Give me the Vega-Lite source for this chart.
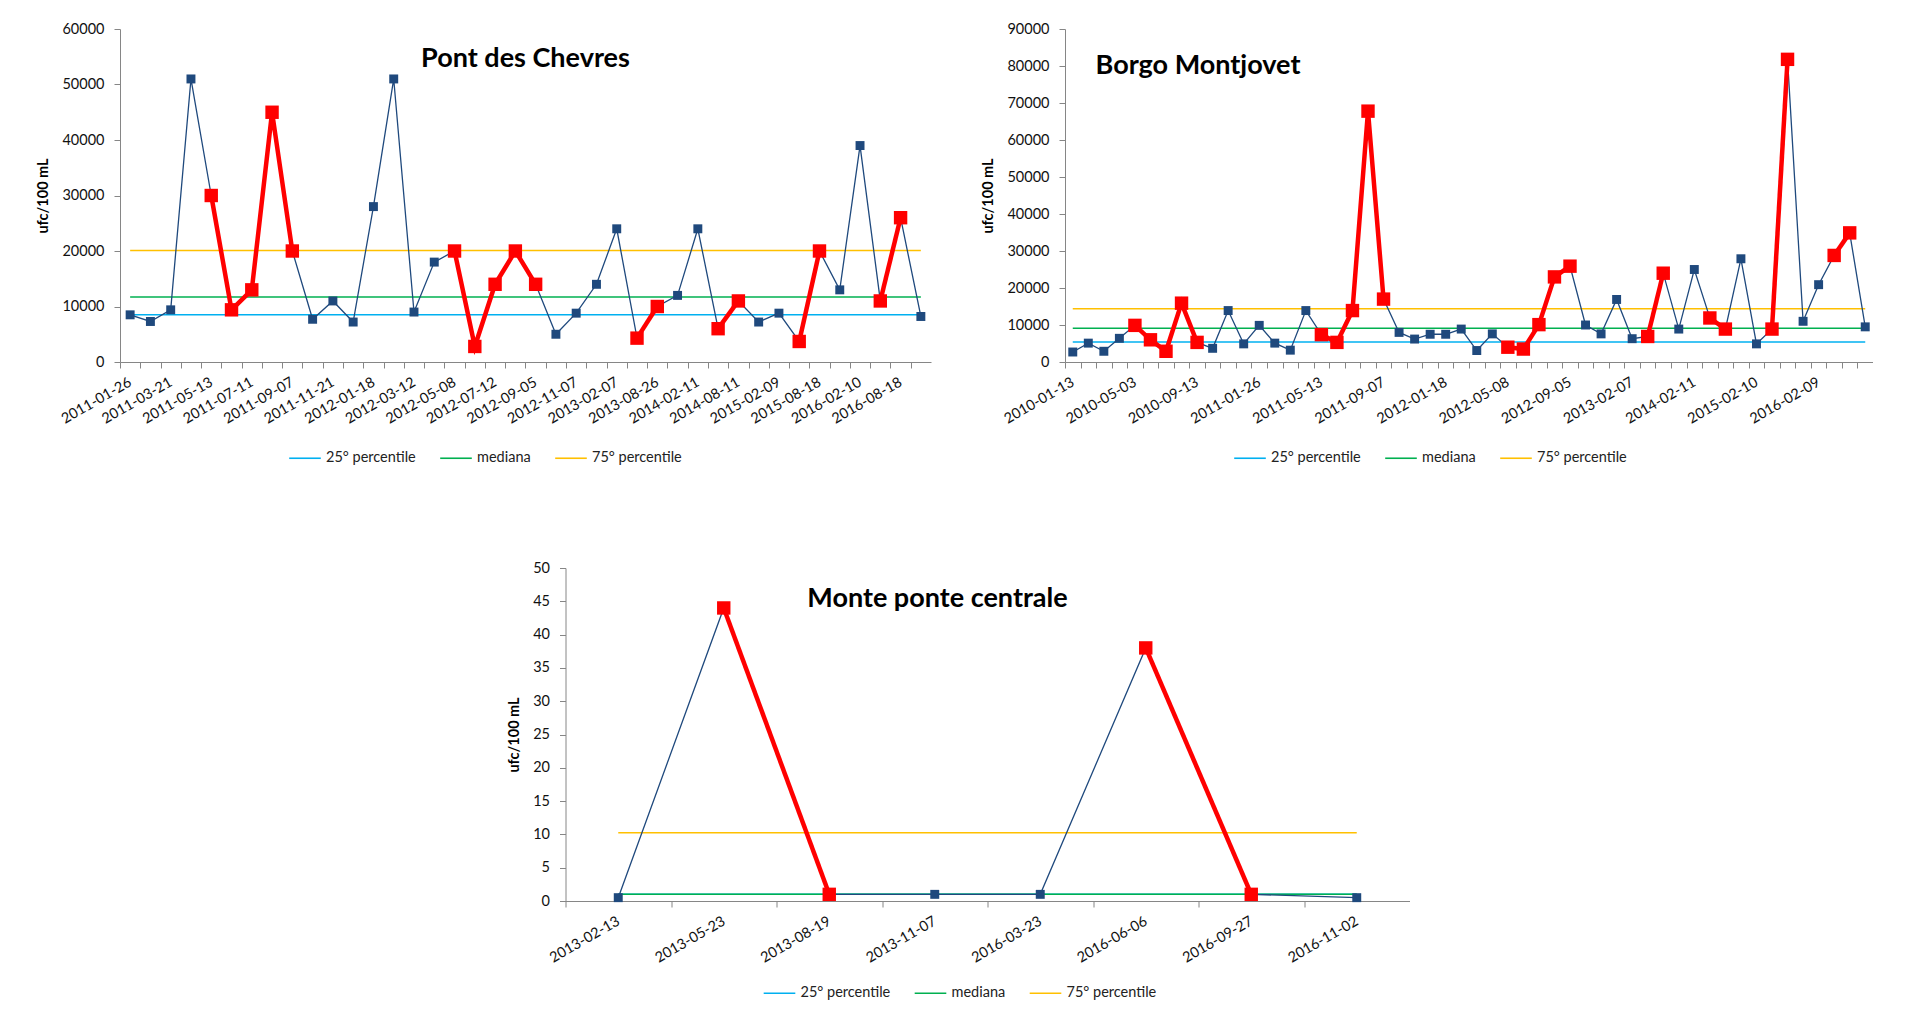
{
  "$schema": "https://vega.github.io/schema/vega-lite/v6.json",
  "background": "white",
  "padding": {"left": 35, "top": 21, "right": 0, "bottom": 0},
  "config": {
    "font": "Lato",
    "view": {"stroke": null},
    "axis": {
      "domainColor": "#868686", "tickColor": "#868686", "grid": false,
      "labelFont": "Lato", "labelFontSize": 14.5, "labelColor": "#111",
      "titleFont": "Lato", "titleFontSize": 14.5, "titleFontWeight": "bold", "titleColor": "#000",
      "tickSize": 6
    },
    "legend": {"labelFont": "Lato", "labelFontSize": 14.5, "labelColor": "#222"},
    "title": {"font": "Lato", "fontSize": 27, "fontWeight": "bold", "color": "#000"}
  },
  "datasets": {
    "pont": [
      {"d": "2011-01-26", "v": 8500, "g": null},
      {"d": "2011-02-23", "v": 7300, "g": null},
      {"d": "2011-03-21", "v": 9400, "g": null},
      {"d": "2011-04-18", "v": 51000, "g": null},
      {"d": "2011-05-13", "v": 30000, "g": 1},
      {"d": "2011-06-14", "v": 9400, "g": 1},
      {"d": "2011-07-11", "v": 13000, "g": 1},
      {"d": "2011-08-09", "v": 45000, "g": 1},
      {"d": "2011-09-07", "v": 20000, "g": 1},
      {"d": "2011-10-12", "v": 7700, "g": null},
      {"d": "2011-11-21", "v": 11000, "g": null},
      {"d": "2011-12-14", "v": 7200, "g": null},
      {"d": "2012-01-18", "v": 28000, "g": null},
      {"d": "2012-02-15", "v": 51000, "g": null},
      {"d": "2012-03-12", "v": 9000, "g": null},
      {"d": "2012-04-11", "v": 18000, "g": null},
      {"d": "2012-05-08", "v": 20000, "g": 2},
      {"d": "2012-06-11", "v": 2800, "g": 2},
      {"d": "2012-07-12", "v": 14000, "g": 2},
      {"d": "2012-08-08", "v": 20000, "g": 2},
      {"d": "2012-09-05", "v": 14000, "g": 2},
      {"d": "2012-10-10", "v": 5000, "g": null},
      {"d": "2012-11-07", "v": 8800, "g": null},
      {"d": "2012-12-12", "v": 14000, "g": null},
      {"d": "2013-02-07", "v": 24000, "g": null},
      {"d": "2013-05-15", "v": 4300, "g": 3},
      {"d": "2013-08-26", "v": 10000, "g": 3},
      {"d": "2013-11-12", "v": 12000, "g": null},
      {"d": "2014-02-11", "v": 24000, "g": null},
      {"d": "2014-05-13", "v": 6000, "g": 4},
      {"d": "2014-08-11", "v": 11000, "g": 4},
      {"d": "2014-11-10", "v": 7200, "g": null},
      {"d": "2015-02-09", "v": 8800, "g": null},
      {"d": "2015-05-12", "v": 3700, "g": 5},
      {"d": "2015-08-18", "v": 20000, "g": 5},
      {"d": "2015-11-10", "v": 13000, "g": null},
      {"d": "2016-02-10", "v": 39000, "g": null},
      {"d": "2016-05-11", "v": 11000, "g": 6},
      {"d": "2016-08-18", "v": 26000, "g": 6},
      {"d": "2016-11-09", "v": 8200, "g": null}
    ],
    "pc_pont": [
      {"stat": "25° percentile", "v": 8500},
      {"stat": "mediana", "v": 11700},
      {"stat": "75° percentile", "v": 20100}
    ],
    "borgo": [
      {"d": "2010-01-13", "v": 2700, "g": null},
      {"d": "2010-02-10", "v": 5100, "g": null},
      {"d": "2010-03-10", "v": 2900, "g": null},
      {"d": "2010-04-07", "v": 6400, "g": null},
      {"d": "2010-05-03", "v": 9900, "g": 1},
      {"d": "2010-06-07", "v": 6000, "g": 1},
      {"d": "2010-07-05", "v": 2900, "g": 1},
      {"d": "2010-08-09", "v": 15900, "g": 1},
      {"d": "2010-09-13", "v": 5300, "g": 1},
      {"d": "2010-10-11", "v": 3700, "g": null},
      {"d": "2010-11-08", "v": 13900, "g": null},
      {"d": "2010-12-13", "v": 4900, "g": null},
      {"d": "2011-01-26", "v": 9900, "g": null},
      {"d": "2011-02-23", "v": 5100, "g": null},
      {"d": "2011-03-21", "v": 3200, "g": null},
      {"d": "2011-04-18", "v": 13900, "g": null},
      {"d": "2011-05-13", "v": 7400, "g": 2},
      {"d": "2011-06-14", "v": 5300, "g": 2},
      {"d": "2011-07-11", "v": 13900, "g": 2},
      {"d": "2011-08-09", "v": 67800, "g": 2},
      {"d": "2011-09-07", "v": 17000, "g": 2},
      {"d": "2011-10-12", "v": 8000, "g": null},
      {"d": "2011-11-21", "v": 6200, "g": null},
      {"d": "2011-12-14", "v": 7500, "g": null},
      {"d": "2012-01-18", "v": 7500, "g": null},
      {"d": "2012-02-15", "v": 8900, "g": null},
      {"d": "2012-03-12", "v": 3100, "g": null},
      {"d": "2012-04-11", "v": 7600, "g": null},
      {"d": "2012-05-08", "v": 4000, "g": 3},
      {"d": "2012-06-11", "v": 3500, "g": 3},
      {"d": "2012-07-12", "v": 10100, "g": 3},
      {"d": "2012-08-08", "v": 23000, "g": 3},
      {"d": "2012-09-05", "v": 25900, "g": 3},
      {"d": "2012-10-10", "v": 10000, "g": null},
      {"d": "2012-11-07", "v": 7600, "g": null},
      {"d": "2012-12-12", "v": 16900, "g": null},
      {"d": "2013-02-07", "v": 6300, "g": null},
      {"d": "2013-05-15", "v": 6900, "g": 4},
      {"d": "2013-08-26", "v": 24000, "g": 4},
      {"d": "2013-11-12", "v": 8900, "g": null},
      {"d": "2014-02-11", "v": 25000, "g": null},
      {"d": "2014-05-13", "v": 11900, "g": 5},
      {"d": "2014-08-11", "v": 8900, "g": 5},
      {"d": "2014-11-10", "v": 27900, "g": null},
      {"d": "2015-02-10", "v": 4900, "g": null},
      {"d": "2015-05-12", "v": 8900, "g": 6},
      {"d": "2015-08-18", "v": 81800, "g": 6},
      {"d": "2015-11-10", "v": 11000, "g": null},
      {"d": "2016-02-09", "v": 20900, "g": null},
      {"d": "2016-05-11", "v": 28800, "g": 7},
      {"d": "2016-08-18", "v": 34900, "g": 7},
      {"d": "2016-11-09", "v": 9500, "g": null}
    ],
    "pc_borgo": [
      {"stat": "25° percentile", "v": 5400},
      {"stat": "mediana", "v": 9100},
      {"stat": "75° percentile", "v": 14400}
    ],
    "monte": [
      {"d": "2013-02-13", "v": 0.5, "g": null},
      {"d": "2013-05-23", "v": 44, "g": 1},
      {"d": "2013-08-19", "v": 1, "g": 1},
      {"d": "2013-11-07", "v": 1, "g": null},
      {"d": "2016-03-23", "v": 1, "g": null},
      {"d": "2016-06-06", "v": 38, "g": 2},
      {"d": "2016-09-27", "v": 1, "g": 2},
      {"d": "2016-11-02", "v": 0.5, "g": null}
    ],
    "pc_monte": [
      {"stat": "25° percentile", "v": 1},
      {"stat": "mediana", "v": 1},
      {"stat": "75° percentile", "v": 10.25}
    ]
  },
  "vconcat": [
    {
      "hconcat": [
        {
          "width": 811, "height": 333,
          "title": {"text": "Pont des Chevres", "anchor": "middle", "dx": 0, "offset": -73, "baseline": "alphabetic"},
          "layer": [
            {
              "data": {"name": "pc_pont"},
              "mark": {"type": "rule", "strokeWidth": 1.5},
              "encoding": {
                "x": {"datum": "2011-01-26", "type": "ordinal"},
                "x2": {"datum": "2016-11-09"},
                "y": {"field": "v", "type": "quantitative"},
                "color": {"field": "stat", "type": "nominal",
                  "scale": {"domain": ["25° percentile", "mediana", "75° percentile"], "range": ["#00B0F0", "#00B050", "#FFC000"]},
                  "legend": {"title": null, "orient": "none", "direction": "horizontal", "legendX": 168, "legendY": 412, "symbolType": "stroke", "symbolSize": 1000, "symbolStrokeWidth": 1.6, "labelOffset": 4, "columnPadding": 20}}
              }
            },
            {
              "data": {"name": "pont"},
              "layer": [
                {"mark": {"type": "line", "color": "#1F497D", "strokeWidth": 1.3}, "encoding": {}},
                {"mark": {"type": "point", "shape": "square", "filled": true, "opacity": 1, "color": "#1F497D", "size": 80}, "encoding": {}},
                {"transform": [{"filter": "datum.g != null"}], "mark": {"type": "line", "color": "#FF0000", "strokeWidth": 4.5}, "encoding": {"detail": {"field": "g", "type": "nominal"}}},
                {"transform": [{"filter": "datum.g != null"}], "mark": {"type": "point", "shape": "square", "filled": true, "opacity": 1, "color": "#FF0000", "size": 180}, "encoding": {}}
              ],
              "encoding": {
                "x": {"field": "d", "type": "ordinal"},
                "y": {"field": "v", "type": "quantitative"}
              }
            }
          ],
          "encoding": {
            "x": {"field": "d", "type": "ordinal",
              "scale": {"type": "point", "padding": 0.5},
              "axis": {"title": null, "labelAngle": -30, "labelAlign": "right", "labelBaseline": "middle", "labelPadding": 13, "labelOverlap": false,
                "tickOffset": -10.14, "labelOffset": 10.14,
                "labelExpr": "indexof(['2011-01-26','2011-03-21','2011-05-13','2011-07-11','2011-09-07','2011-11-21','2012-01-18','2012-03-12','2012-05-08','2012-07-12','2012-09-05','2012-11-07','2013-02-07','2013-08-26','2014-02-11','2014-08-11','2015-02-09','2015-08-18','2016-02-10','2016-08-18'], datum.value) >= 0 ? datum.value : ''"}},
            "y": {"field": "v", "type": "quantitative",
              "scale": {"domain": [0, 60000], "nice": false},
              "axis": {"title": "ufc/100 mL", "values": [0, 10000, 20000, 30000, 40000, 50000, 60000], "format": "d", "labelPadding": 10, "titlePadding": 11}}
          }
        },
        {
          "width": 808, "height": 333,
          "title": {"text": "Borgo Montjovet", "anchor": "middle", "dx": -271, "offset": -80, "baseline": "alphabetic"},
          "layer": [
            {
              "data": {"name": "pc_borgo"},
              "mark": {"type": "rule", "strokeWidth": 1.5},
              "encoding": {
                "x": {"datum": "2010-01-13", "type": "ordinal"},
                "x2": {"datum": "2016-11-09"},
                "y": {"field": "v", "type": "quantitative"},
                "color": {"field": "stat", "type": "nominal",
                  "scale": {"domain": ["25° percentile", "mediana", "75° percentile"], "range": ["#00B0F0", "#00B050", "#FFC000"]},
                  "legend": {"title": null, "orient": "none", "direction": "horizontal", "legendX": 168, "legendY": 412, "symbolType": "stroke", "symbolSize": 1000, "symbolStrokeWidth": 1.6, "labelOffset": 4, "columnPadding": 20}}
              }
            },
            {
              "data": {"name": "borgo"},
              "layer": [
                {"mark": {"type": "line", "color": "#1F497D", "strokeWidth": 1.3}, "encoding": {}},
                {"mark": {"type": "point", "shape": "square", "filled": true, "opacity": 1, "color": "#1F497D", "size": 80}, "encoding": {}},
                {"transform": [{"filter": "datum.g != null"}], "mark": {"type": "line", "color": "#FF0000", "strokeWidth": 4.5}, "encoding": {"detail": {"field": "g", "type": "nominal"}}},
                {"transform": [{"filter": "datum.g != null"}], "mark": {"type": "point", "shape": "square", "filled": true, "opacity": 1, "color": "#FF0000", "size": 180}, "encoding": {}}
              ],
              "encoding": {
                "x": {"field": "d", "type": "ordinal"},
                "y": {"field": "v", "type": "quantitative"}
              }
            }
          ],
          "encoding": {
            "x": {"field": "d", "type": "ordinal",
              "scale": {"type": "point", "padding": 0.5},
              "axis": {"title": null, "labelAngle": -30, "labelAlign": "right", "labelBaseline": "middle", "labelPadding": 13, "labelOverlap": false,
                "tickOffset": -7.77, "labelOffset": 7.77,
                "labelExpr": "indexof(['2010-01-13','2010-05-03','2010-09-13','2011-01-26','2011-05-13','2011-09-07','2012-01-18','2012-05-08','2012-09-05','2013-02-07','2014-02-11','2015-02-10','2016-02-09'], datum.value) >= 0 ? datum.value : ''"}},
            "y": {"field": "v", "type": "quantitative",
              "scale": {"domain": [0, 90000], "nice": false},
              "axis": {"title": "ufc/100 mL", "values": [0, 10000, 20000, 30000, 40000, 50000, 60000, 70000, 80000, 90000], "format": "d", "labelPadding": 10, "titlePadding": 11}}
          }
        }
      ],
      "spacing": 49,
      "resolve": {"scale": {"x": "independent", "y": "independent", "color": "independent"}, "legend": {"color": "independent"}, "axis": {"x": "independent", "y": "independent"}}
    },
    {
      "hconcat": [
        {
          "width": 844, "height": 333,
          "title": {"text": "Monte ponte centrale", "anchor": "middle", "dx": -50, "offset": -74, "baseline": "alphabetic"},
          "layer": [
            {
              "data": {"name": "pc_monte"},
              "mark": {"type": "rule", "strokeWidth": 1.5},
              "encoding": {
                "x": {"datum": "2013-02-13", "type": "ordinal"},
                "x2": {"datum": "2016-11-02"},
                "y": {"field": "v", "type": "quantitative"},
                "color": {"field": "stat", "type": "nominal",
                  "scale": {"domain": ["25° percentile", "mediana", "75° percentile"], "range": ["#00B0F0", "#00B050", "#FFC000"]},
                  "legend": {"title": null, "orient": "none", "direction": "horizontal", "legendX": 197, "legendY": 408, "symbolType": "stroke", "symbolSize": 1000, "symbolStrokeWidth": 1.6, "labelOffset": 4, "columnPadding": 20}}
              }
            },
            {
              "data": {"name": "monte"},
              "layer": [
                {"mark": {"type": "line", "color": "#1F497D", "strokeWidth": 1.3}, "encoding": {}},
                {"mark": {"type": "point", "shape": "square", "filled": true, "opacity": 1, "color": "#1F497D", "size": 80}, "encoding": {}},
                {"transform": [{"filter": "datum.g != null"}], "mark": {"type": "line", "color": "#FF0000", "strokeWidth": 4.5}, "encoding": {"detail": {"field": "g", "type": "nominal"}}},
                {"transform": [{"filter": "datum.g != null"}], "mark": {"type": "point", "shape": "square", "filled": true, "opacity": 1, "color": "#FF0000", "size": 180}, "encoding": {}}
              ],
              "encoding": {
                "x": {"field": "d", "type": "ordinal"},
                "y": {"field": "v", "type": "quantitative"}
              }
            }
          ],
          "encoding": {
            "x": {"field": "d", "type": "ordinal",
              "scale": {"type": "point", "padding": 0.5},
              "axis": {"title": null, "labelAngle": -30, "labelAlign": "right", "labelBaseline": "middle", "labelPadding": 13, "labelOverlap": false,
                "tickOffset": -52.75, "labelOffset": 52.75}},
            "y": {"field": "v", "type": "quantitative",
              "scale": {"domain": [0, 50], "nice": false},
              "axis": {"title": "ufc/100 mL", "values": [0, 5, 10, 15, 20, 25, 30, 35, 40, 45, 50], "format": "d", "labelPadding": 10, "titlePadding": 11}}
          }
        },
        {
          "width": 1, "height": 1,
          "data": {"values": [{"a": 0}]},
          "mark": {"type": "point", "opacity": 0, "size": 1},
          "encoding": {}
        }
      ],
      "spacing": 17,
      "resolve": {"scale": {"x": "independent", "y": "independent", "color": "independent"}, "legend": {"color": "independent"}, "axis": {"x": "independent", "y": "independent"}}
    }
  ],
  "spacing": 95,
  "center": true,
  "resolve": {"scale": {"x": "independent", "y": "independent", "color": "independent"}, "legend": {"color": "independent"}, "axis": {"x": "independent", "y": "independent"}}
}
